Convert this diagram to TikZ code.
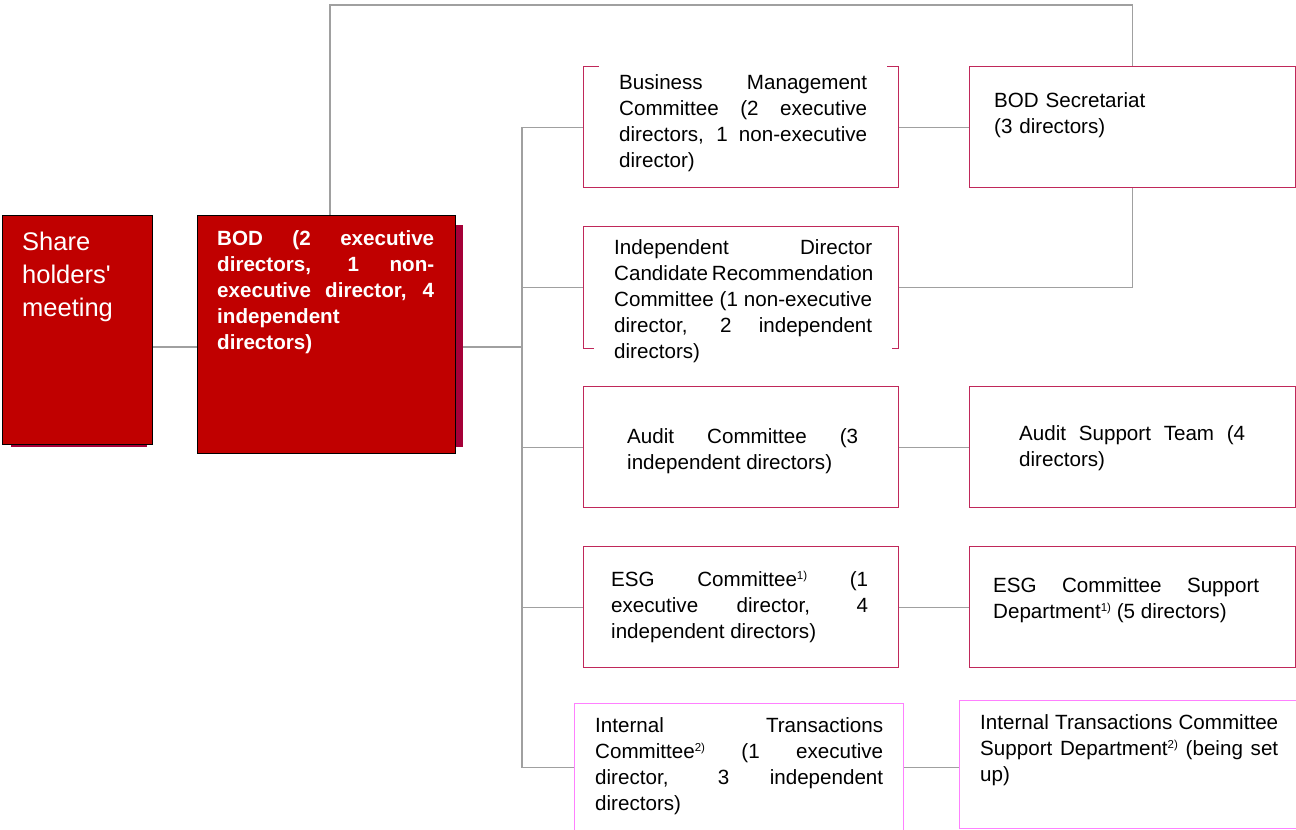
\documentclass[tikz,border=0pt]{standalone}
\usepackage{fontspec}
\setmainfont{Liberation Sans}
\usepackage{tikz}
\usetikzlibrary{positioning, calc, backgrounds}
\definecolor{boardred}{RGB}{192, 0, 0}
\definecolor{shadowred}{RGB}{165, 0, 55}
\definecolor{framered}{RGB}{192, 40, 90}
\definecolor{framepink}{RGB}{255, 128, 255}
\definecolor{linegray}{RGB}{160, 160, 160}
\newcommand{\fnmark}[1]{\raisebox{7pt}{\fontsize{11.5}{12}\selectfont #1}}
\tolerance=10000
\hbadness=10000
\hyphenpenalty=10000
\exhyphenpenalty=10000

\begin{document}
\begin{tikzpicture}[
    x=1pt, y=-1pt,
    every node/.style={inner sep=0pt},
    redbox/.style={
        rectangle,
        draw=black,
        line width=1.2pt,
        fill=boardred,
        anchor=north west
    },
    shadowbox/.style={
        rectangle,
        fill=shadowred,
        anchor=north west
    },
    unitbox/.style={
        rectangle,
        draw=framered,
        line width=1.3pt,
        fill=white,
        anchor=north west
    },
    newbox/.style={
        unitbox,
        draw=framepink
    },
    unittext/.style={
        anchor=base west,
        align=justify,
        font=\fontsize{20.6}{26}\selectfont
    },
    covertext/.style={
        unittext,
        fill=white,
        inner xsep=20pt,
        inner ysep=12pt
    },
    redtext/.style={
        anchor=base west,
        text=white
    },
    conn/.style={
        draw=linegray,
        line width=1.2pt
    }
]
\useasboundingbox (0,0) rectangle (1296,830);
\clip (0,0) rectangle (1296,830);

% ==================== LEFT: MEETING AND BOARD ====================
\node (sh_shadow) [shadowbox, minimum width=136, minimum height=222] at (11,225) {};
\node (sh) [redbox, minimum width=150, minimum height=229] at (2,215) {};
\node (sh_text) [redtext, text width=125, align=left, font=\fontsize{25.5}{33}\selectfont] at (22,250) {Share\\holders\textquotesingle\\meeting};

\node (bod_shadow) [shadowbox, minimum width=258, minimum height=222] at (205,225) {};
\node (bod) [redbox, minimum width=258, minimum height=238] at (197,215) {};
\node (bod_text) [redtext, text width=217, align=justify, font=\bfseries\fontsize{20.6}{26}\selectfont] at (217,245) {BOD (2 executive\linebreak directors, 1 non-\linebreak executive director, 4\linebreak independent\\directors)};

% ==================== MIDDLE: COMMITTEES ====================
\node (bm) [unitbox, minimum width=315, minimum height=121] at (583,66) {};
\node (bm_text) [covertext, text width=248] at (599,89) {Business Management\linebreak Committee (2 executive\linebreak directors, 1 non-executive\linebreak director)};

\node (idcr) [unitbox, minimum width=315, minimum height=122] at (583,226) {};
\node (idcr_text) [covertext, text width=258] at (594,254) {Independent Director\linebreak Candidate Recommendation\linebreak Committee (1 non-executive\linebreak director, 2 independent\linebreak directors)};

\node (audit) [unitbox, minimum width=315, minimum height=121] at (583,386) {};
\node (audit_text) [unittext, text width=231] at (627,443) {Audit Committee (3\linebreak independent directors)};

\node (esg) [unitbox, minimum width=315, minimum height=121] at (583,546) {};
\node (esg_text) [unittext, text width=257] at (611,586) {ESG Committee\fnmark{1)} (1\linebreak executive director, 4\linebreak independent directors)};

\node (it) [newbox, minimum width=329, minimum height=128] at (574,703) {};
\node (it_text) [unittext, text width=288] at (595,732) {Internal Transactions\linebreak Committee\fnmark{2)} (1 executive\linebreak director, 3 independent\linebreak directors)};

% ==================== RIGHT: SUPPORT UNITS ====================
\node (sec) [unitbox, minimum width=326, minimum height=121] at (969,66) {};
\node (sec_text) [unittext, text width=260, align=left] at (994,107) {BOD Secretariat\\(3 directors)};

\node (ast) [unitbox, minimum width=326, minimum height=121] at (969,386) {};
\node (ast_text) [unittext, text width=226] at (1019,440) {Audit Support Team (4\linebreak directors)};

\node (esgs) [unitbox, minimum width=326, minimum height=121] at (969,546) {};
\node (esgs_text) [unittext, text width=266] at (993,592) {ESG Committee Support\linebreak Department\fnmark{1)} (5 directors)};

\node (its) [newbox, minimum width=345, minimum height=128] at (959,700) {};
\node (its_text) [unittext, text width=298] at (980,729) {Internal Transactions Committee\linebreak Support Department\fnmark{2)} (being set\linebreak up)};

% Connectors
\coordinate (bus) at (522,347);
\coordinate (rail) at (330,5);
\begin{scope}[on background layer]
    \draw [conn] (sh.east |- bus) -- (bod.west |- bus);
    \draw [conn] (bod_shadow.east |- bus) -- (bus);
    \draw [conn] (bus |- bm.west) -- (bus |- it.west);
    \foreach \unit in {bm, idcr, audit, esg, it}
        \draw [conn] (bus |- \unit.west) -- (\unit.west);
    \draw [conn] (bm.east) -- (sec.west);
    \draw [conn] (audit.east) -- (ast.west);
    \draw [conn] (esg.east) -- (esgs.west);
    \draw [conn] (it.east) -- (it.east -| its.west);
    \draw [conn] (rail |- bod.north) -- (rail) -| (sec.north);
    \draw [conn] (sec.south) |- (idcr.east);
\end{scope}

\end{tikzpicture}
\end{document}
